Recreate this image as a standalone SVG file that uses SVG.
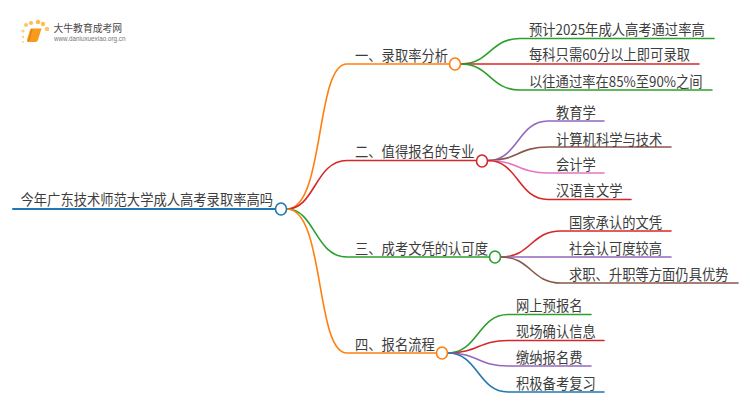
<svg xmlns="http://www.w3.org/2000/svg" width="750" height="410" viewBox="0 0 750 410">
<style>
text{font-family:"Noto Sans CJK SC","Liberation Sans",sans-serif;font-size:14.5px;fill:#3d3d3d}
.l{fill:none;stroke-width:1.6;stroke-linecap:round}
.n{fill:#fff;stroke-width:1.6}
.o{stroke:#ff7f0e}.r{stroke:#d62728}.g{stroke:#2ca02c}.b{stroke:#1f77b4}.p{stroke:#9467bd}.m{stroke:#8c564b}.k{stroke:#e377c2}
</style>
<rect width="750" height="410" fill="#fff"/>
<g id="logo">
<circle cx="23" cy="31" r="1.6" fill="#fbd48a"/><circle cx="23" cy="37" r="1.2" fill="#fbd48a"/><circle cx="26" cy="25" r="2" fill="#fbc766"/><circle cx="31" cy="23" r="2.100" fill="#fbc04e"/><circle cx="38" cy="22" r="2.200" fill="#fbbc40"/><circle cx="43" cy="24" r="2.200" fill="#fbc04e"/><circle cx="47" cy="29" r="2.300" fill="#fbc766"/><circle cx="23" cy="42" r="1" fill="#fbd48a"/>
<path d="M31 28.500H41.500L38 40Q37.500 42 35.500 42H28Q26.500 42 27 40L30 30Q30.300 28.500 31 28.500Z" fill="#f79a1e"/><path d="M28.500 41L32 29.500" stroke="#e07f10" stroke-width="1.200" fill="none"/>
<text x="53.500" y="31.500" style="font-size:9.800px;fill:#4a4a4a">大牛教育成考网</text>
<text x="54" y="41" style="font-size:6.300px;fill:#777;font-family:'Liberation Sans',sans-serif">www.daniuxuexiao.org.cn</text>
</g>
<g id="connectors">
<path class="l b" d="M13 209H276" style="stroke-width:2"/>
<path class="l o" d="M287 209C325 209 315 64 347 64H449"/>
<path class="l r" d="M287 209C315 209 315 160.500 347 160.500H476"/>
<path class="l g" d="M287 209C315 209 315 257 347 257H489"/>
<path class="l o" d="M287 209C325 209 315 353 347 353H436"/>
<path class="l g" d="M461 64C490 64 490 38.500 520 38.500H714"/>
<path class="l r" d="M461 64H699"/>
<path class="l g" d="M461 64C490 64 490 90 520 90H712"/>
<path class="l p" d="M488 160.500C518 160.500 518 121 548 121H604"/>
<path class="l m" d="M488 160.500C518 160.500 518 147 548 147H671"/>
<path class="l k" d="M488 160.500C518 160.500 518 173 548 173H604"/>
<path class="l r" d="M488 160.500C518 160.500 518 199.500 548 199.500H631"/>
<path class="l r" d="M501 257C531 257 531 231 561 231H671"/>
<path class="l p" d="M501 257H671"/>
<path class="l m" d="M501 257C531 257 531 283 561 283H738"/>
<path class="l g" d="M448 353C478 353 478 314.500 508 314.500H591"/>
<path class="l r" d="M448 353C478 353 478 340.500 508 340.500H604"/>
<path class="l p" d="M448 353C478 353 478 366 508 366H591"/>
<path class="l b" d="M448 353C478 353 478 392 508 392H604"/>
</g>
<g id="root"><text transform="translate(20.500 205) scale(.917 1)">今年广东技术师范大学成人高考录取率高吗</text><ellipse class="n b" cx="281" cy="209" rx="5.500" ry="6"/></g>
<g id="b1"><text transform="translate(355 60.500) scale(.917 1)">一、录取率分析</text><ellipse class="n o" cx="455" cy="64" rx="5.500" ry="6"/></g>
<g id="b2"><text transform="translate(355 157) scale(.917 1)">二、值得报名的专业</text><ellipse class="n r" cx="482" cy="161" rx="5.500" ry="6"/></g>
<g id="b3"><text transform="translate(355 254) scale(.917 1)">三、成考文凭的认可度</text><ellipse class="n g" cx="495" cy="257" rx="5.500" ry="6"/></g>
<g id="b4"><text transform="translate(355 350) scale(.917 1)">四、报名流程</text><ellipse class="n o" cx="442" cy="353" rx="5.500" ry="6"/></g>
<g id="l1"><text transform="translate(529 34.500) scale(.917 1)">预计2025年成人高考通过率高</text></g>
<g id="l2"><text transform="translate(529 60) scale(.917 1)">每科只需60分以上即可录取</text></g>
<g id="l3"><text transform="translate(529 87) scale(.917 1)">以往通过率在85%至90%之间</text></g>
<g id="l4"><text transform="translate(556 118) scale(.917 1)">教育学</text></g>
<g id="l5"><text transform="translate(556 144.500) scale(.917 1)">计算机科学与技术</text></g>
<g id="l6"><text transform="translate(556 170) scale(.917 1)">会计学</text></g>
<g id="l7"><text transform="translate(556 196) scale(.917 1)">汉语言文学</text></g>
<g id="l8"><text transform="translate(569 228) scale(.917 1)">国家承认的文凭</text></g>
<g id="l9"><text transform="translate(569 254) scale(.917 1)">社会认可度较高</text></g>
<g id="l10"><text transform="translate(569 280) scale(.917 1)">求职、升职等方面仍具优势</text></g>
<g id="l11"><text transform="translate(516 311) scale(.917 1)">网上预报名</text></g>
<g id="l12"><text transform="translate(516 336.500) scale(.917 1)">现场确认信息</text></g>
<g id="l13"><text transform="translate(516 363) scale(.917 1)">缴纳报名费</text></g>
<g id="l14"><text transform="translate(516 389) scale(.917 1)">积极备考复习</text></g>
</svg>
